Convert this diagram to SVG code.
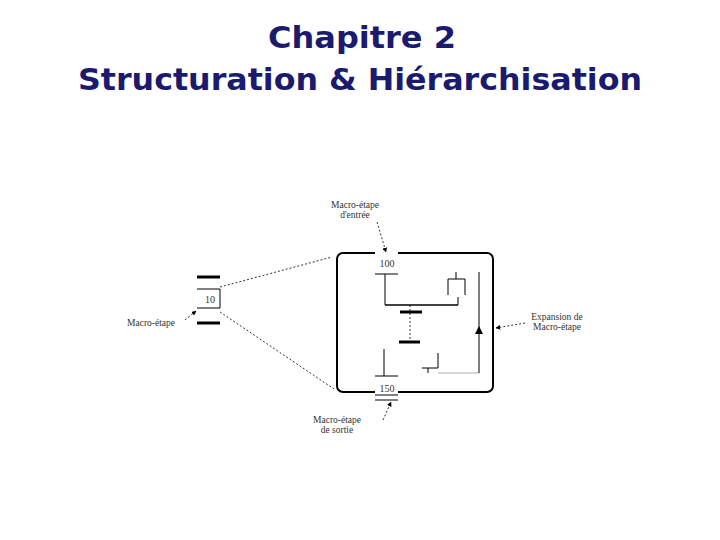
<svg xmlns="http://www.w3.org/2000/svg" width="720" height="540" viewBox="0 0 720 540">
<style>
.t{font-family:"DejaVu Sans",sans-serif;font-weight:bold;font-size:30px;fill:#1a1a6e;text-anchor:middle}
.s{font-family:"Liberation Serif",serif;font-size:9.5px;fill:#333;text-anchor:middle}
.l{stroke:#000;stroke-width:1;fill:none}
.b{stroke:#000;stroke-width:3;fill:none}
.d{stroke:#000;stroke-width:0.8;stroke-dasharray:2,2;fill:none}
</style>
<defs><marker id="a" viewBox="0 0 10 10" refX="9" refY="5" markerWidth="6" markerHeight="6" orient="auto"><path d="M0,0L10,5L0,10z" fill="#000"/></marker></defs>
<rect width="720" height="540" fill="#fff"/>
<text class="t" x="362" y="48" textLength="188" lengthAdjust="spacingAndGlyphs">Chapitre 2</text>
<text class="t" x="360" y="90" textLength="564" lengthAdjust="spacingAndGlyphs">Structuration &amp; Hiérarchisation</text>
<g id="macro10">
<line class="b" x1="197" y1="277" x2="220" y2="277"/>
<line class="b" x1="197" y1="323" x2="220" y2="323"/>
<path class="l" d="M197,289H220V308H197"/>
<text class="s" x="210" y="303" style="font-size:10px">10</text>
</g>
<g id="expansion">
<path d="M375,253H343a6,6 0 0 0 -6,6V386a6,6 0 0 0 6,6H375M398,392H487a6,6 0 0 0 6,-6V259a6,6 0 0 0 -6,-6H398" stroke="#000" stroke-width="2" fill="none"/>
<text class="s" x="387" y="267" style="font-size:10px">100</text>
<line class="l" x1="375" y1="274" x2="398" y2="274"/>
<path class="l" d="M385,274V305"/>
<line stroke="#000" stroke-width="1.5" x1="385" y1="305" x2="458" y2="305"/>
<path class="l" d="M458,297V305M448,295V279H465V295M456,272V279"/>
<line class="b" x1="400" y1="312" x2="422" y2="312"/>
<line class="d" x1="410" y1="305" x2="410" y2="342"/>
<line class="b" x1="399" y1="342" x2="420" y2="342"/>
<path class="l" d="M438,353V368H422M428,368V373"/>
<path stroke="#999" stroke-width="0.8" d="M438,373H479"/>
<path class="l" d="M384,349V376M375,376H398"/>
<text class="s" x="387" y="392" style="font-size:10px">150</text>
<path class="l" d="M375,395H398M375,400H398"/>
<line class="l" x1="479" y1="373" x2="479" y2="272"/>
<path d="M479,326L475,334H483z" fill="#000"/>
</g>
<g id="connectors">
<line class="d" x1="220" y1="287" x2="332" y2="257"/>
<line class="d" x1="220" y1="312" x2="334" y2="389"/>
<line class="d" x1="377" y1="222" x2="386" y2="252" marker-end="url(#a)"/>
<line class="d" x1="185" y1="320" x2="196" y2="311" marker-end="url(#a)"/>
<line class="d" x1="525" y1="323" x2="496" y2="328" marker-end="url(#a)"/>
<line class="d" x1="383" y1="420" x2="391" y2="402" marker-end="url(#a)"/>
</g>
<g id="labels">
<text class="s" x="355" y="208">Macro-étape</text>
<text class="s" x="355" y="218">d'entrée</text>
<text class="s" x="151" y="326">Macro-étape</text>
<text class="s" x="557" y="320">Expansion de</text>
<text class="s" x="557" y="330">Macro-étape</text>
<text class="s" x="337" y="423">Macro-étape</text>
<text class="s" x="337" y="433">de sortie</text>
</g>
</svg>
